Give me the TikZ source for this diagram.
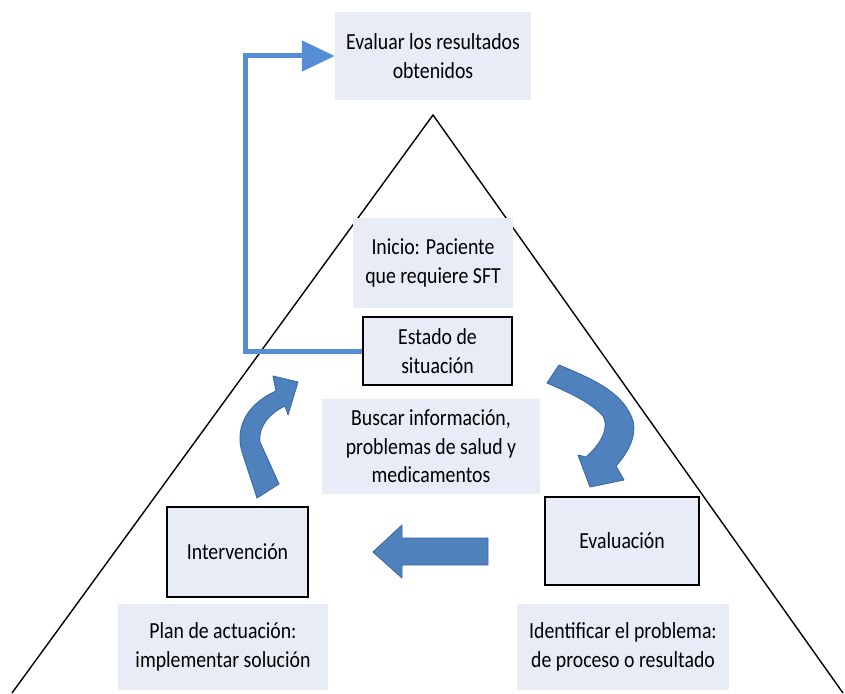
\documentclass[tikz,border=0pt]{standalone}
\usepackage{fontspec}
\setmainfont{Carlito}[FakeStretch=0.86]
\usetikzlibrary{arrows.meta}
\definecolor{boxfill}{HTML}{E7ECF6}
\definecolor{connblue}{HTML}{558ED5}
\definecolor{arrfill}{HTML}{4F81BD}
\definecolor{arredge}{HTML}{3C6AA3}
\begin{document}
\begin{tikzpicture}[x=1pt,y=-1pt,
  txt/.style={font=\fontsize{23}{28.5}\selectfont, align=center, inner sep=0pt},
  softbox/.style={txt, fill=boxfill},
  framebox/.style={txt, fill=boxfill, draw=black, line width=1.3pt},
  conn/.style={draw=connblue, line width=5pt, -{Triangle[length=33pt,width=30pt]}},
  blockarrow/.style={fill=arrfill, draw=arredge, line width=0.9pt, line join=round}]
\useasboundingbox (0,0) rectangle (845,693);
% triangle
\draw[line width=1.4pt] (12,693) -- (433,115) -- (843,693);
% boxes
\node[softbox, minimum width=196pt, minimum height=88pt] (evaluar) at (433,56) {Evaluar los resultados\\obtenidos};
\node[softbox, minimum width=160pt, minimum height=90pt] (inicio) at (433,263) {Inicio: Paciente\\que requiere SFT};
\node[framebox, minimum width=149pt, minimum height=68pt] (estado) at (437.5,351) {Estado de\\situación};
\node[softbox, minimum width=218pt, minimum height=95pt] (buscar) at (431,446.5) {Buscar información,\\problemas de salud y\\medicamentos};
\node[framebox, minimum width=141pt, minimum height=90pt] (interv) at (237.5,552) {Intervención};
\node[framebox, minimum width=154pt, minimum height=88pt] (evalua) at (622,541) {Evaluación};
\node[softbox, minimum width=210pt, minimum height=86pt] (plan) at (223,647) {Plan de actuación:\\implementar solución};
\node[softbox, minimum width=212pt, minimum height=86pt] (ident) at (623,647) {Identificar el problema:\\de proceso o resultado};
% connector
\coordinate (corner) at (245,351);
\draw[conn] (estado.west) -- (corner) |- (evaluar.west);
% block arrows
\path[blockarrow] (488,538) -- (402,538) -- (402,525) -- (373,552) -- (402,578) -- (402,565) -- (488,565) -- cycle;
\path[blockarrow] (257,498) -- (243,455) .. controls (234,430) and (245,405) .. (276,391) -- (273,376) -- (298,382) -- (288,415) -- (285,406) .. controls (268,414) and (258,428) .. (260,442) -- (279,484) -- cycle;
\path[blockarrow] (547,383) -- (559,365) .. controls (595,380) and (624,393) .. (633,421) .. controls (637,438) and (626,455) .. (616,466) -- (624,480) -- (590,487) -- (578,455) -- (586,457) .. controls (600,445) and (610,428) .. (603,416) .. controls (590,402) and (570,393) .. (547,383) -- cycle;
\end{tikzpicture}
\end{document}
